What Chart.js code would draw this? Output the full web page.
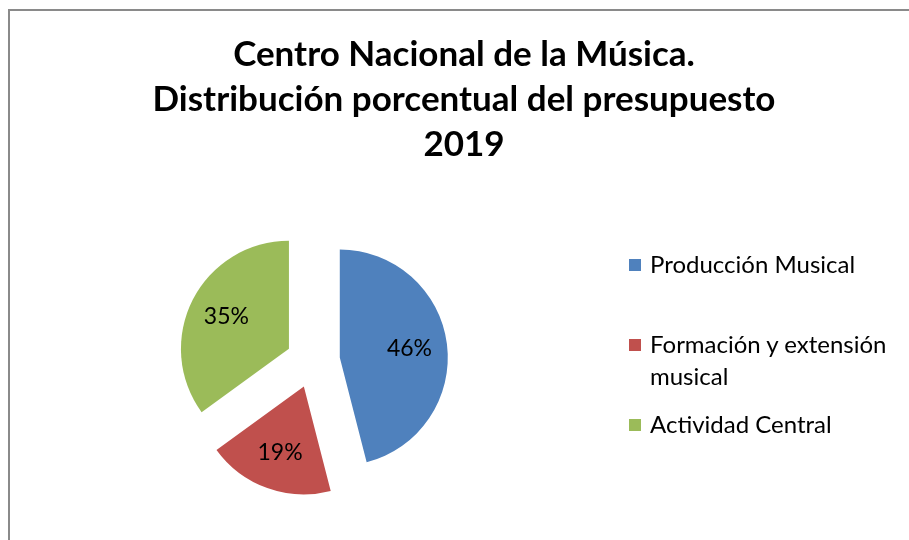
<!DOCTYPE html>
<html>
<head>
<meta charset="utf-8">
<script src="https://cdn.jsdelivr.net/npm/chart.js@4/dist/chart.umd.min.js"></script>
<style>
  body { margin: 0; background: #fff; }
  #wrap { position: relative; width: 909px; height: 540px; overflow: hidden; }
  #frame { position: absolute; left: 8px; top: 9px; width: 920px; height: 560px;
           border-left: 2px solid #8a8a8a; border-top: 2px solid #8a8a8a; }
  #chart { position: absolute; left: 0; top: 0; }
  #title { position: absolute; left: 14px; width: 900px; top: 30px; text-align: center;
           font: bold 35px Lato, sans-serif; line-height: 45px; color: #000; }
  .item { position: absolute; left: 629px; display: flex; align-items: flex-start;
          font: 24px Lato, sans-serif; line-height: 32px; color: #000; }
  .item .sw { width: 12px; height: 12px; margin-top: 11px; margin-right: 9px; flex: none; }
  .item .tx { width: 260px; }
</style>
</head>
<body>
<div id="wrap">
  <div id="frame"></div>
  <canvas id="chart" width="909" height="540"></canvas>
  <div id="title"></div>
  <div id="legend"></div>
</div>
<script>
const titleLines = ['Centro Nacional de la Música.', 'Distribución porcentual del presupuesto', '2019'];
const categories = ['Producción Musical', 'Formación y extensión musical', 'Actividad Central'];
const shares = [46, 19, 35];
const colors = ['#4F81BD', '#C0504D', '#9BBB59'];
const legendTops = [248, 328, 408];
const explode = 27;

document.getElementById('title').innerHTML = titleLines.join('<br>');

const legend = document.getElementById('legend');
categories.forEach((name, i) => {
  const item = document.createElement('div');
  item.className = 'item';
  item.style.top = legendTops[i] + 'px';
  item.innerHTML = '<span class="sw" style="background:' + colors[i] + '"></span><span class="tx">' + name + '</span>';
  legend.appendChild(item);
});

// percent labels inside each slice (chart.js has no built-in data labels)
const pctLabels = {
  id: 'pctLabels',
  afterDatasetsDraw(chart) {
    const ctx = chart.ctx;
    const meta = chart.getDatasetMeta(0);
    const total = shares.reduce((a, b) => a + b, 0);
    ctx.save();
    ctx.font = '23px Lato, sans-serif';
    ctx.fillStyle = '#000';
    ctx.textAlign = 'center';
    ctx.textBaseline = 'middle';
    meta.data.forEach((arc, i) => {
      const p = arc.getProps(['x', 'y', 'startAngle', 'endAngle', 'outerRadius']);
      const mid = (p.startAngle + p.endAngle) / 2;
      const d = explode + p.outerRadius * 0.65;
      ctx.fillText(Math.round(shares[i] / total * 100) + '%', p.x + Math.cos(mid) * d, p.y + Math.sin(mid) * d);
    });
    ctx.restore();
  }
};

const chart = new Chart(document.getElementById('chart'), {
  type: 'pie',
  data: {
    labels: categories,
    datasets: [{
      data: shares,
      backgroundColor: colors,
      borderWidth: 0
    }]
  },
  options: {
    responsive: false,
    animation: false,
    radius: 108,
    layout: { padding: { left: 163, right: 446, top: 211, bottom: 29 } },
    plugins: {
      legend: { display: false },
      tooltip: { enabled: false }
    }
  },
  plugins: [pctLabels]
});

// built-in offset also grows the radius of wide slices, so shift slices ourselves
const arcProto = chart.getDatasetMeta(0).data[0].constructor.prototype;
const baseDraw = arcProto.draw;
arcProto.draw = function (ctx) {
  const mid = (this.startAngle + this.endAngle) / 2;
  ctx.save();
  ctx.translate(Math.cos(mid) * explode, Math.sin(mid) * explode);
  baseDraw.call(this, ctx);
  ctx.restore();
};
chart.draw();
</script>
</body>
</html>
